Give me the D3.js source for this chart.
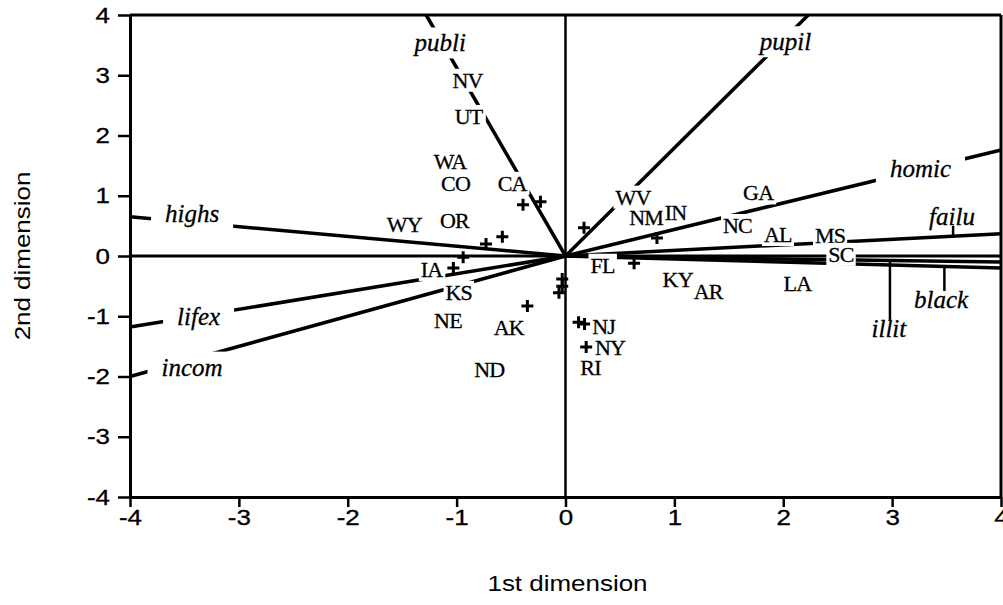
<!DOCTYPE html>
<html>
<head>
<meta charset="utf-8">
<script src="https://cdn.jsdelivr.net/npm/d3@7"></script>
<style>
body { margin: 0; background: #fff; }
svg { display: block; }
.sans { font-family: "Liberation Sans", Arial, sans-serif; font-size: 22px; }
.vlab { font-family: "Liberation Serif", "Times New Roman", serif; font-style: italic; font-size: 25px; stroke: #000; stroke-width: 0.3px; }
.slab { font-family: "Liberation Serif", "Times New Roman", serif; font-size: 22px; letter-spacing: -0.8px; stroke: #000; stroke-width: 0.3px; }
</style>
</head>
<body>
<svg width="1003" height="605"></svg>
<script>
// variable vectors (end point on the frame) and their labels
var varNames  = ["publi", "pupil", "homic", "failu", "black", "illit", "highs", "lifex", "incom"];
var varEndX   = [-1.28, 2.23, 4, 4, 4, 4, -4, -4, -4];
var varEndY   = [4, 4, 1.76, 0.37, -0.20, -0.10, 0.65, -1.18, -2.0];
var varLabX   = [-1.15, 2.02, 3.26, 3.55, 3.45, 2.97, -3.43, -3.37, -3.43];
var varLabY   = [3.54, 3.56, 1.46, 0.66, -0.71, -1.20, 0.71, -1.00, -1.84];

// leader ticks joining a label to its vector
var leadVar  = ["failu", "black", "illit"];
var leadX    = [3.56, 3.48, 2.98];
var leadEndY = [0.50, -0.58, -1.06];

// states
var stateNames = ["NV", "UT", "WA", "CO", "CA", "OR", "WY", "IA", "KS", "NE", "AK", "ND",
                  "NJ", "NY", "RI", "FL", "NM", "WV", "IN", "GA", "NC", "AL", "MS", "SC", "LA", "KY", "AR"];
var stateX = [-0.90, -0.89, -1.06, -1.01, -0.49, -1.02, -1.48, -1.23, -0.98, -1.08, -0.52, -0.70,
              0.35, 0.41, 0.23, 0.34, 0.74, 0.62, 1.01, 1.77, 1.58, 1.95, 2.43, 2.53, 2.13, 1.03, 1.31];
var stateY = [2.92, 2.32, 1.58, 1.21, 1.21, 0.60, 0.53, -0.22, -0.60, -1.06, -1.19, -1.88,
              -1.16, -1.52, -1.84, -0.15, 0.65, 0.98, 0.73, 1.05, 0.51, 0.36, 0.35, 0.03, -0.46, -0.38, -0.58];

// small crosses
var crossX = [-0.39, -0.23, -0.58, -0.73, 0.17, 0.63, 0.84, -0.03, -0.03, -0.06, -0.35, 0.12, 0.175, 0.19, -1.03, -0.94];
var crossY = [0.85, 0.90, 0.32, 0.20, 0.47, -0.12, 0.30, -0.38, -0.50, -0.61, -0.83, -1.10, -1.13, -1.51, -0.20, -0.02];

var majorTicks = [-4, -3, -2, -1, 0, 1, 2, 3, 4];
var minorTicks = [-3.5, -2.5, -1.5, -0.5, 0.5, 1.5, 2.5, 3.5];

var svg = d3.select("svg");
var x = d3.scaleLinear().domain([-4, 4]).range([130, 1001]);
var y = d3.scaleLinear().domain([-4, 4]).range([497, 15]);
var stretch = 1.18;

// axes
var gy = svg.append("g").attr("transform", "translate(" + x(-4) + ",0)");
gy.call(d3.axisLeft(y).tickValues(minorTicks).tickSize(6).tickSizeOuter(0).tickFormat(""));
gy.call(d3.axisLeft(y).tickValues(majorTicks).tickSize(12).tickSizeOuter(0).tickPadding(8).tickFormat(function(d) { return String(d); }));
var gx = svg.append("g").attr("transform", "translate(0," + y(-4) + ")");
gx.call(d3.axisBottom(x).tickValues(minorTicks).tickSize(6).tickSizeOuter(0).tickFormat(""));
gx.call(d3.axisBottom(x).tickValues(majorTicks).tickSize(10).tickSizeOuter(0).tickPadding(2).tickFormat(function(d) { return String(d); }));
svg.selectAll(".domain").attr("stroke-width", 3);
svg.selectAll(".tick line").attr("stroke-width", 2.5);
svg.selectAll(".tick text").attr("class", "sans").attr("font-size", null).attr("font-family", null)
    .attr("fill", "#000").attr("stroke", "#000").attr("stroke-width", 0.3);
gy.selectAll(".tick text").attr("x", -20 / stretch).attr("transform", "scale(" + stretch + ",1)");
gx.selectAll(".tick text").attr("transform", "scale(" + stretch + ",1)");

// frame top and right
svg.append("line").attr("x1", x(-4)).attr("x2", x(4)).attr("y1", y(4)).attr("y2", y(4)).attr("stroke", "#000").attr("stroke-width", 3);
svg.append("line").attr("x1", x(4)).attr("x2", x(4)).attr("y1", y(4)).attr("y2", y(-4)).attr("stroke", "#000").attr("stroke-width", 3);

// zero lines
svg.append("line").attr("x1", x(0)).attr("x2", x(0)).attr("y1", y(4)).attr("y2", y(-4)).attr("stroke", "#000").attr("stroke-width", 2.5);
svg.append("line").attr("x1", x(-4)).attr("x2", x(4)).attr("y1", y(0)).attr("y2", y(0)).attr("stroke", "#000").attr("stroke-width", 3);

// titles
svg.append("text").attr("class", "sans").attr("text-anchor", "middle")
    .attr("transform", "translate(" + (x(0) + 2) + ",591) scale(" + stretch + ",1)")
    .text("1st dimension");
svg.append("text").attr("class", "sans").attr("text-anchor", "middle").attr("dy", "0.35em")
    .attr("transform", "translate(22," + y(0) + ") rotate(-90) scale(" + stretch + ",1)")
    .text("2nd dimension");

// vectors
svg.append("g").selectAll("line")
    .data(varNames)
    .enter().append("line")
    .attr("x1", x(0)).attr("y1", y(0))
    .attr("x2", function(d, i) { return x(varEndX[i]); })
    .attr("y2", function(d, i) { return y(varEndY[i]); })
    .attr("stroke", "#000").attr("stroke-width", 3.5);

// crosses
svg.append("g").selectAll("path")
    .data(crossX)
    .enter().append("path")
    .attr("transform", function(d, i) { return "translate(" + x(crossX[i]) + "," + y(crossY[i]) + ")"; })
    .attr("d", "M-6,0H6M0,-6V6")
    .attr("stroke", "#000").attr("stroke-width", 3);

// labels with white knock-out boxes
function label(g, txt, cx, cy, cls, px, py) {
  var t = g.append("text").attr("class", cls).attr("text-anchor", "middle")
      .attr("x", cx).attr("y", cy).attr("dy", "0.35em").text(txt);
  var b = t.node().getBBox();
  g.insert("rect", function() { return t.node(); })
      .attr("x", b.x - px).attr("y", b.y - py)
      .attr("width", b.width + 2 * px).attr("height", b.height + 2 * py)
      .attr("fill", "#fff");
}
var gl = svg.append("g");
varNames.forEach(function(d, i) { label(gl, d, x(varLabX[i]), y(varLabY[i]), "vlab", 14, 2); });
stateNames.forEach(function(d, i) { label(gl, d, x(stateX[i]), y(stateY[i]), "slab", 2, -1); });

// leaders
svg.append("g").selectAll("line")
    .data(leadVar)
    .enter().append("line")
    .attr("x1", function(d, i) { return x(leadX[i]); })
    .attr("x2", function(d, i) { return x(leadX[i]); })
    .attr("y1", function(d, i) { var k = varNames.indexOf(d); return y(varEndY[k] * leadX[i] / varEndX[k]); })
    .attr("y2", function(d, i) { return y(leadEndY[i]); })
    .attr("stroke", "#000").attr("stroke-width", 2.5);
</script>
</body>
</html>
